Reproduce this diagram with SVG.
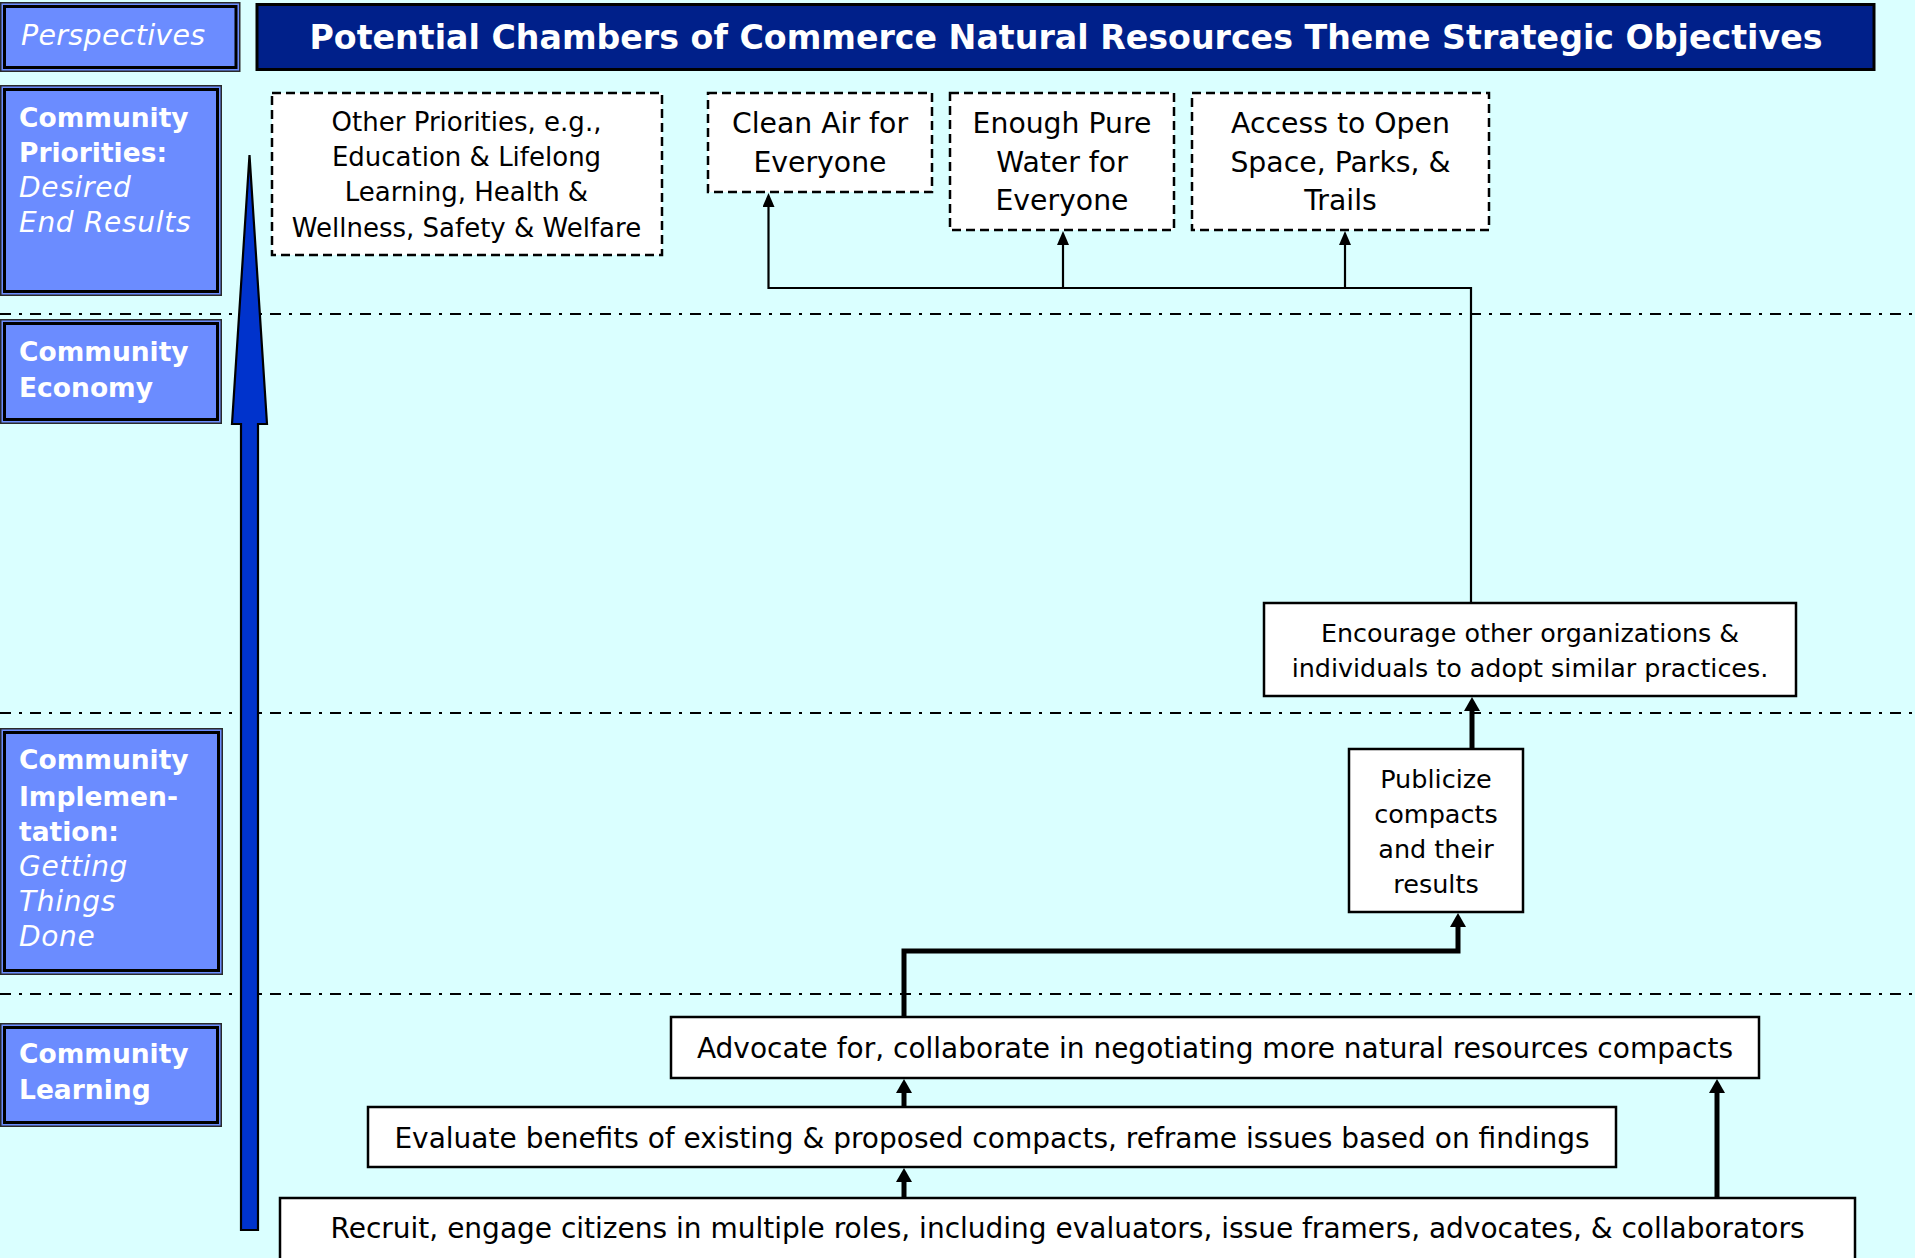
<svg xmlns="http://www.w3.org/2000/svg" width="1915" height="1258" viewBox="0 0 1915 1258">
<defs>
<style>
.lbl-o{fill:#6B8CFF;stroke:#2a2a2a;stroke-width:1.5}
.lbl-i{fill:none;stroke:#000;stroke-width:3}
.lt{font-family:"DejaVu Sans",Verdana,sans-serif;fill:#fff;font-size:26.5px}
.b{font-weight:bold}
.it{font-style:italic;font-size:28px;letter-spacing:0.7px}
.dbox{fill:#fff;stroke:#000;stroke-width:2.5;stroke-dasharray:9 5}
.sbox{fill:#fff;stroke:#000;stroke-width:2.5}
.bt{font-family:"DejaVu Sans",Verdana,sans-serif;fill:#000;text-anchor:middle}
.sep{stroke:#000;stroke-width:2;stroke-dasharray:11 8 3 8;fill:none}
.thin{fill:none;stroke:#000;stroke-width:2.2;marker-end:url(#a1)}
.thick{fill:none;stroke:#000;stroke-width:5;marker-end:url(#a2)}
</style>
<marker id="a1" markerUnits="userSpaceOnUse" viewBox="0 0 14 12" markerWidth="14" markerHeight="12" refX="1" refY="6" orient="auto"><path d="M0,0L14,6L0,12Z" fill="#000"/></marker>
<marker id="a2" markerUnits="userSpaceOnUse" viewBox="0 0 14 16" markerWidth="14" markerHeight="16" refX="1" refY="8" orient="auto"><path d="M0,0L14,8L0,16Z" fill="#000"/></marker>
</defs>
<rect x="0" y="0" width="1915" height="1258" fill="#DAFFFF"/>

<g id="separators">
<line class="sep" x1="0" y1="314" x2="1915" y2="314"/>
<line class="sep" x1="0" y1="713" x2="1915" y2="713"/>
<line class="sep" x1="0" y1="994" x2="1915" y2="994"/>
</g>

<g id="perspectives">
<rect class="lbl-o" x="0.75" y="2.75" width="239" height="68.5"/>
<rect class="lbl-i" x="4.5" y="6.5" width="231.5" height="61"/>
<text class="lt it" x="21" y="45" style="font-size:28.5px;letter-spacing:0.3px">Perspectives</text>
</g>

<g id="title">
<rect x="257" y="4.5" width="1617" height="65" fill="#00208A" stroke="#000" stroke-width="3"/>
<text x="1066" y="49" font-family="'DejaVu Sans',Verdana,sans-serif" font-weight="bold" font-size="33" fill="#fff" text-anchor="middle" textLength="1513" lengthAdjust="spacingAndGlyphs">Potential Chambers of Commerce Natural Resources Theme Strategic Objectives</text>
</g>

<g id="lbl-priorities">
<rect class="lbl-o" x="0.75" y="85.75" width="220.5" height="209.5"/>
<rect class="lbl-i" x="4.5" y="89.5" width="213" height="202"/>
<text class="lt b" x="19" y="127">Community</text>
<text class="lt b" x="19" y="162">Priorities:</text>
<text class="lt it" x="19" y="197">Desired</text>
<text class="lt it" x="19" y="232">End Results</text>
</g>

<g id="lbl-economy">
<rect class="lbl-o" x="0.75" y="319.75" width="220.5" height="103.5"/>
<rect class="lbl-i" x="4.5" y="323.5" width="213" height="96"/>
<text class="lt b" x="19" y="361">Community</text>
<text class="lt b" x="19" y="397">Economy</text>
</g>

<g id="lbl-implementation">
<rect class="lbl-o" x="0.75" y="728.75" width="221.5" height="245.5"/>
<rect class="lbl-i" x="4.5" y="732.5" width="214" height="238"/>
<text class="lt b" x="19" y="769">Community</text>
<text class="lt b" x="19" y="806">Implemen-</text>
<text class="lt b" x="19" y="841">tation:</text>
<text class="lt it" x="19" y="876">Getting</text>
<text class="lt it" x="19" y="911">Things</text>
<text class="lt it" x="19" y="946">Done</text>
</g>

<g id="lbl-learning">
<rect class="lbl-o" x="0.75" y="1023.75" width="220.5" height="102.5"/>
<rect class="lbl-i" x="4.5" y="1027.5" width="213" height="95"/>
<text class="lt b" x="19" y="1063">Community</text>
<text class="lt b" x="19" y="1099">Learning</text>
</g>

<g id="big-arrow">
<polygon points="249.5,155 267,424 258,424 258,1230 241,1230 241,424 232,424" fill="#0033CC" stroke="#000" stroke-width="2.2" stroke-linejoin="miter"/>
</g>

<g id="other-priorities">
<rect class="dbox" x="272" y="93" width="390" height="162"/>
<text class="bt" font-size="26"><tspan x="466.5" y="131">Other Priorities, e.g.,</tspan><tspan x="466.5" y="166">Education &amp; Lifelong</tspan><tspan x="466.5" y="201">Learning, Health &amp;</tspan><tspan x="466.5" y="237">Wellness, Safety &amp; Welfare</tspan></text>
</g>

<g id="clean-air">
<rect class="dbox" x="708" y="93" width="224" height="99"/>
<text class="bt" font-size="28.3"><tspan x="820" y="133">Clean Air for</tspan><tspan x="820" y="172">Everyone</tspan></text>
</g>

<g id="pure-water">
<rect class="dbox" x="950" y="93" width="224" height="137"/>
<text class="bt" font-size="28.3"><tspan x="1062" y="133">Enough Pure</tspan><tspan x="1062" y="172">Water for</tspan><tspan x="1062" y="210">Everyone</tspan></text>
</g>

<g id="open-space">
<rect class="dbox" x="1192" y="93" width="297" height="137"/>
<text class="bt" font-size="28.3"><tspan x="1340.5" y="133">Access to Open</tspan><tspan x="1340.5" y="172">Space, Parks, &amp;</tspan><tspan x="1340.5" y="210">Trails</tspan></text>
</g>

<g id="encourage">
<rect class="sbox" x="1264" y="603" width="532" height="93"/>
<text class="bt" font-size="25.4"><tspan x="1530" y="642">Encourage other organizations &amp;</tspan><tspan x="1530" y="677">individuals to adopt similar practices.</tspan></text>
</g>

<g id="publicize">
<rect class="sbox" x="1349" y="749" width="174" height="163"/>
<text class="bt" font-size="25.5"><tspan x="1436" y="788">Publicize</tspan><tspan x="1436" y="823">compacts</tspan><tspan x="1436" y="858">and their</tspan><tspan x="1436" y="893">results</tspan></text>
</g>

<g id="advocate">
<rect class="sbox" x="671" y="1017" width="1088" height="61"/>
<text class="bt" font-size="28" x="1215" y="1058">Advocate for, collaborate in negotiating more natural resources compacts</text>
</g>

<g id="evaluate">
<rect class="sbox" x="368" y="1107" width="1248" height="60"/>
<text class="bt" font-size="28" x="992" y="1148">Evaluate benefits of existing &amp; proposed compacts, reframe issues based on findings</text>
</g>

<g id="recruit">
<rect class="sbox" x="280" y="1198" width="1575" height="66"/>
<text class="bt" font-size="28" x="1067.5" y="1238">Recruit, engage citizens in multiple roles, including evaluators, issue framers, advocates, &amp; collaborators</text>
</g>

<g id="connectors">
<path class="thin" d="M1471,603 V288 H768.5 V206"/>
<path class="thin" d="M1063,288 V244"/>
<path class="thin" d="M1345,288 V244"/>
<path class="thick" d="M1472,749 V710"/>
<path class="thick" d="M904,1017 V951 H1458 V926"/>
<path class="thick" d="M904,1107 V1092"/>
<path class="thick" d="M904,1198 V1181"/>
<path class="thick" d="M1717,1198 V1092"/>
</g>
</svg>
